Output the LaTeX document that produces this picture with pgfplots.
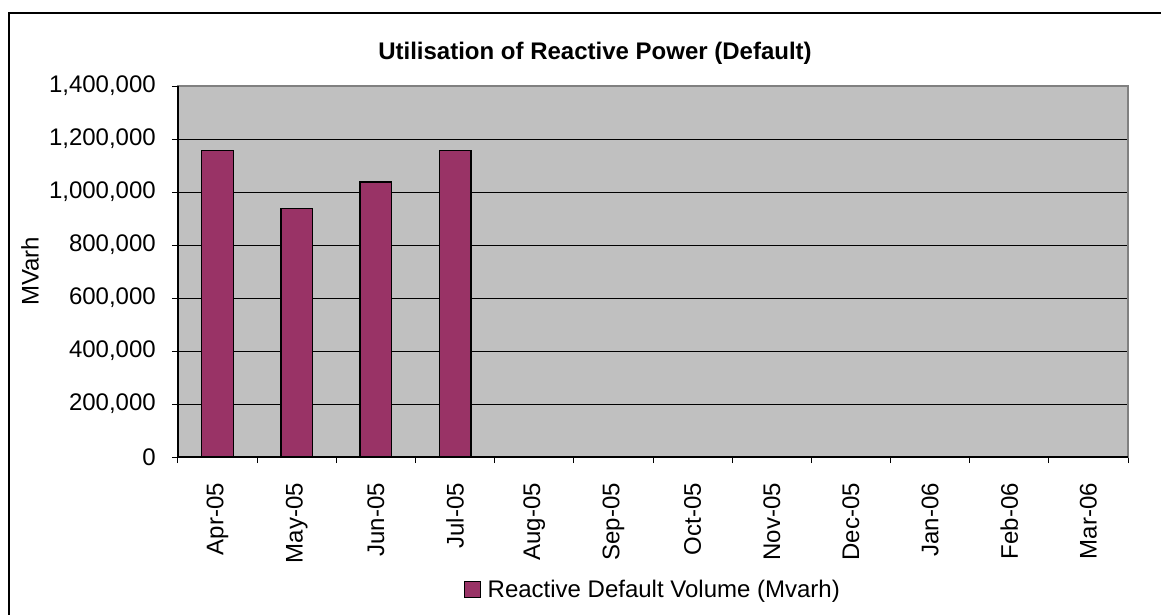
\documentclass[border=0pt]{standalone}
\usepackage{pgfplots}
\pgfplotsset{compat=1.18}
\usepackage{fontspec}
\setmainfont{Liberation Sans}
\definecolor{barcol}{HTML}{993366}
\definecolor{bgcol}{HTML}{C0C0C0}
\definecolor{bordcol}{HTML}{808080}
\begin{document}
\begin{tikzpicture}
\clip (-178pt,-157pt) rectangle (983pt,457pt);
\begin{axis}[
  at={(0pt,0pt)}, anchor=south west,
  scale only axis, width=950pt, height=371pt,
  xmin=-0.5, xmax=11.5, ymin=0, ymax=1400000,
  ytick={0,200000,400000,600000,800000,1000000,1200000,1400000},
  scaled y ticks=false,
  /pgf/number format/.cd, fixed, 1000 sep={,}, assume math mode=true, /pgfplots/.cd,
  xtick={0,...,11},
  xticklabels={Apr-05,May-05,Jun-05,Jul-05,Aug-05,Sep-05,Oct-05,Nov-05,Dec-05,Jan-06,Feb-06,Mar-06},
  minor xtick={-0.5,0.5,...,11.5},
  major x tick style={draw=none},
  minor x tick style={black, line width=1pt},
  major y tick style={black, line width=1pt},
  tick align=outside,
  major tick length=6pt, minor tick length=6pt,
  xtick pos=bottom, ytick pos=left,
  ymajorgrids, grid style={black, line width=1pt},
  axis background/.style={fill=bgcol},
  axis line style={draw=none},
  ticklabel style={font=\fontsize{24}{28}\selectfont, inner sep=0pt},
  xticklabel style={yshift=-20pt, rotate=90, anchor=east},
  yticklabel style={anchor=east, xshift=-16pt},
  legend style={at={(axis description cs:0.5,-0.358)}, anchor=center, draw=none, fill=none,
    font=\fontsize{24}{28}\selectfont},
  legend cell align=left,
]
\addplot[ybar, bar width=0.4, fill=barcol, draw=black, line width=1.2pt,
  legend image code/.code={\draw[fill=barcol, draw=black, line width=1pt] (0pt,-8pt) rectangle (16pt,8pt); \path[draw=none, fill=none] (0pt,0pt) -- (21pt,0pt);}]
  coordinates {(0,1158000) (1,939000) (2,1038000) (3,1158000)};
\addlegendentry{Reactive Default Volume (Mvarh)}
\end{axis}
\draw[bordcol, line width=1.5pt] (0pt,0pt) rectangle (950pt,371pt);
\draw[black, line width=1.2pt] (0pt,371pt) -- (0pt,0pt) -- (950pt,0pt);
\draw[black, line width=1.5pt] (-169pt,-300pt) -- (-169pt,444pt) -- (1200pt,444pt);
\node[font=\bfseries\fontsize{24}{28}\selectfont] at (417pt,404pt) {Utilisation of Reactive Power (Default)};
\node[font=\fontsize{24}{28}\selectfont, rotate=90] at (-148pt,185.5pt) {MVarh};
\end{tikzpicture}
\end{document}
